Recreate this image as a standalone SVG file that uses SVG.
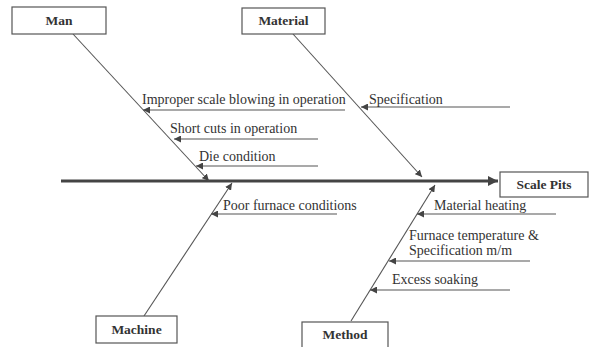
<svg xmlns="http://www.w3.org/2000/svg" width="590" height="347" viewBox="0 0 590 347">
<defs>
<style>
.box{fill:#fff;stroke:#555;stroke-width:1.2}
.lbl{font-family:"Liberation Serif",serif;font-size:13.5px;font-weight:bold;fill:#333;text-anchor:middle}
.t{font-family:"Liberation Serif",serif;font-size:14px;fill:#333}
.c{stroke:#555;stroke-width:1.1;fill:none;marker-end:url(#ah)}
.spine{stroke:#444;stroke-width:3.2;fill:none;marker-end:url(#big)}
</style>
<marker id="ah" viewBox="0 0 10 10" refX="10" refY="5" markerWidth="7" markerHeight="7" markerUnits="userSpaceOnUse" orient="auto"><path d="M0,0L10,5L0,10z" fill="#444"/></marker>
<marker id="big" viewBox="0 0 10 10" refX="10" refY="5" markerWidth="12" markerHeight="10" markerUnits="userSpaceOnUse" orient="auto"><path d="M0,0L10,5L0,10z" fill="#444"/></marker>
</defs>
<rect width="590" height="347" fill="#fff"/>
<g id="connectors">
<line class="spine" x1="61" y1="181" x2="498" y2="181"/>
<line class="c" x1="73" y1="34" x2="209" y2="181"/>
<line class="c" x1="293" y1="34" x2="422" y2="177"/>
<line class="c" x1="144" y1="316" x2="232" y2="183"/>
<line class="c" x1="351" y1="321" x2="435" y2="185"/>
<line class="c" x1="345" y1="110" x2="143" y2="110"/>
<line class="c" x1="318" y1="139" x2="174" y2="139"/>
<line class="c" x1="318" y1="166" x2="196" y2="166"/>
<line class="c" x1="510" y1="107" x2="361" y2="107"/>
<line class="c" x1="337" y1="214" x2="211" y2="214"/>
<line class="c" x1="556" y1="214" x2="417" y2="214"/>
<line class="c" x1="530" y1="261" x2="389" y2="261"/>
<line class="c" x1="510" y1="290" x2="370" y2="290"/>
</g>
<g id="man"><rect class="box" x="12" y="7" width="94" height="27"/><text class="lbl" x="59" y="25">Man</text></g>
<g id="material"><rect class="box" x="242" y="8" width="83" height="26"/><text class="lbl" x="283.5" y="25">Material</text></g>
<g id="scale-pits"><rect class="box" x="500" y="172" width="88" height="25"/><text class="lbl" x="544" y="189">Scale Pits</text></g>
<g id="machine"><rect class="box" x="96" y="316" width="81" height="27"/><text class="lbl" x="136.5" y="334">Machine</text></g>
<g id="method"><rect class="box" x="302" y="322" width="86" height="30"/><text class="lbl" x="345" y="339">Method</text></g>
<g id="causes">
<text class="t" x="142" y="104">Improper scale blowing in operation</text>
<text class="t" x="170" y="133">Short cuts in operation</text>
<text class="t" x="199" y="161">Die condition</text>
<text class="t" x="369" y="104">Specification</text>
<text class="t" x="223" y="210">Poor furnace conditions</text>
<text class="t" x="434" y="210">Material heating</text>
<text class="t" x="409" y="240">Furnace temperature &amp;</text>
<text class="t" x="409" y="255">Specification m/m</text>
<text class="t" x="392" y="284">Excess soaking</text>
</g>
</svg>
